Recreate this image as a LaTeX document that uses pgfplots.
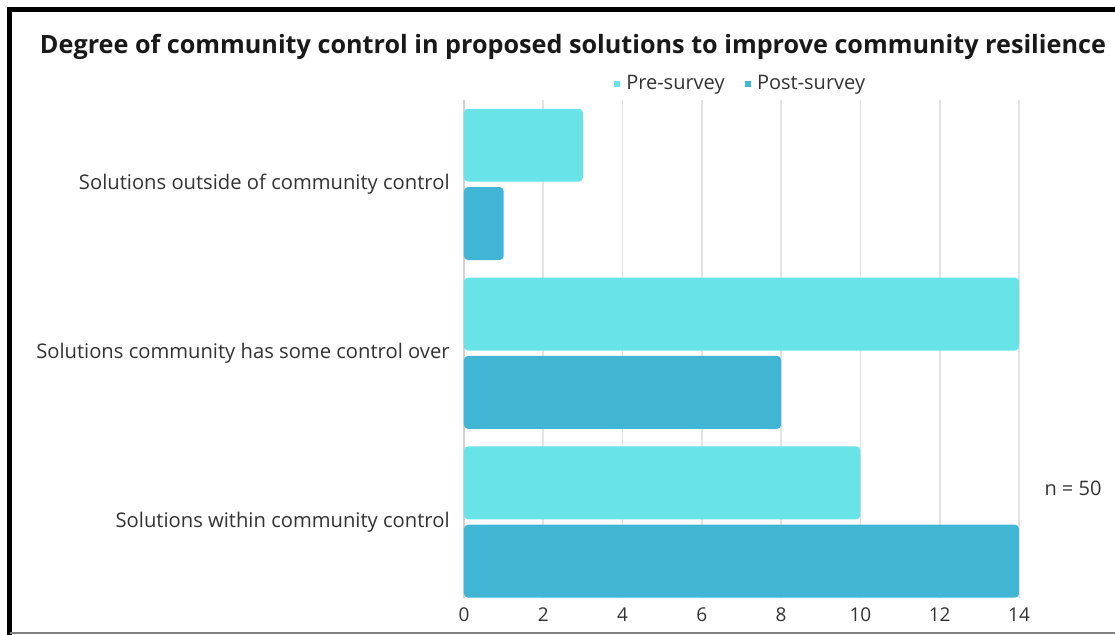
\documentclass[border=0pt]{standalone}
\usepackage{pgfplots}
\pgfplotsset{compat=1.18}
\usepackage{fontspec}
\setmainfont{Open Sans}
\definecolor{pre}{HTML}{68E4E8}
\definecolor{post}{HTML}{40B6D4}
\definecolor{txt}{HTML}{333333}
\begin{document}
\begin{tikzpicture}
\path[use as bounding box] (0,0) rectangle (557.5pt,317.5pt);
\fill[white] (0,0) rectangle (557.5pt,317.5pt);
\begin{axis}[
 at={(232pt,18.5pt)}, anchor=south west,
 width=277.5pt, height=249pt, scale only axis,
 xmin=0, xmax=14, ymin=-0.45, ymax=2.5,
 xtick={0,2,...,14}, ytick={0,1,2},
 yticklabels={Solutions within community control, Solutions community has some control over, Solutions outside of community control},
 axis lines=left, axis line style={-},
 x axis line style={draw=none},
 y axis line style={draw=gray!35, line width=0.8pt},
 major tick length=0pt,
 xmajorgrids, grid style={draw=gray!22, line width=0.8pt},
 xbar, bar width=0.432,
 yticklabel style={font=\fontsize{10.1}{12}\selectfont, text=txt, inner sep=0pt, xshift=-7pt},
 xticklabel style={font=\fontsize{9.5}{11}\selectfont, text=txt, inner sep=0pt, yshift=-4.5pt},
 /pgf/number format/assume math mode=true,
 legend style={at={(0.5,1.032)}, anchor=center, draw=none, fill=none, legend columns=2,
   font=\fontsize{10}{12}\selectfont, text=txt,
   /tikz/every odd column/.append style={column sep=1pt},
   /tikz/every even column/.append style={column sep=8pt}},
 legend image code/.code={\fill[#1, sharp corners] (0pt,-1.6pt) rectangle (3.2pt,1.6pt);},
]
\addplot[fill=pre, draw=none, bar shift=0.232, rounded corners=2pt] coordinates {(10,0) (14,1) (3,2)};
\addplot[fill=post, draw=none, bar shift=-0.232, rounded corners=2pt] coordinates {(14,0) (8,1) (1,2)};
\legend{Pre-survey, Post-survey}
\end{axis}
\node[text=txt, font=\fontsize{10}{12}\selectfont] at (536.5pt,73.5pt) {n = 50};
\node[inner sep=0pt, text={black!90}] at (286.5pt,294pt) {\resizebox{533pt}{!}{\bfseries Degree of community control in proposed solutions to improve community resilience}};
\draw[black, line width=2.5pt] (4.75pt,0) -- (4.75pt,312.75pt) -- (557.5pt,312.75pt);
\draw[gray, line width=1pt] (4.75pt,1pt) -- (557.5pt,1pt);
\end{tikzpicture}
\end{document}
